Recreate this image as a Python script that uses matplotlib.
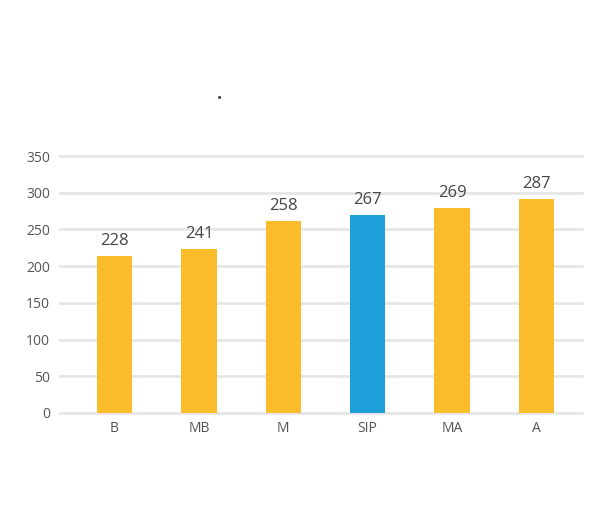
import matplotlib
matplotlib.use("Agg")
import matplotlib.pyplot as plt
import numpy as np

# datos
categorias = ["B", "MB", "M", "SIP", "MA", "A"]
alturas = [214, 224, 261, 270, 279, 291]
etiquetas = ["228", "241", "258", "267", "269", "287"]
colores = ["#FBBC2C", "#FBBC2C", "#FBBC2C", "#1E9FD9", "#FBBC2C", "#FBBC2C"]
yticks = [0, 50, 100, 150, 200, 250, 300, 350]

plt.rcParams["font.family"] = ["Open Sans", "DejaVu Sans"]

fig = plt.figure(figsize=(6.15, 5.12), dpi=100)
ax = fig.add_axes([60 / 615, (512 - 413) / 512, 522 / 615, 257 / 512])

x = np.arange(len(categorias))
ax.bar(x, alturas, width=0.42, color=colores, zorder=3)

for xi, h, lab in zip(x, alturas, etiquetas):
    ax.annotate(lab, (xi, h), xytext=(0, 5), textcoords="offset points",
                ha="center", va="bottom", fontsize=12, color="#444444")

ax.set_xlim(-0.646, 5.54)
ax.set_ylim(0, 350)
ax.set_yticks(yticks)
ax.set_xticks(x)
ax.set_xticklabels(categorias)
for y in yticks:
    ax.axhline(y, color="#e6e6e6", linewidth=2.0, zorder=1, clip_on=False)

for s in ax.spines.values():
    s.set_visible(False)
ax.tick_params(axis="both", length=0, colors="#555555", labelsize=10)
ax.tick_params(axis="y", pad=7)
ax.tick_params(axis="x", pad=6)

fig.text(220 / 615, 1 - 94 / 512, ".", ha="center", va="center",
         fontsize=13, color="#444444", fontweight="bold")

fig.savefig("out.png", dpi=100)
